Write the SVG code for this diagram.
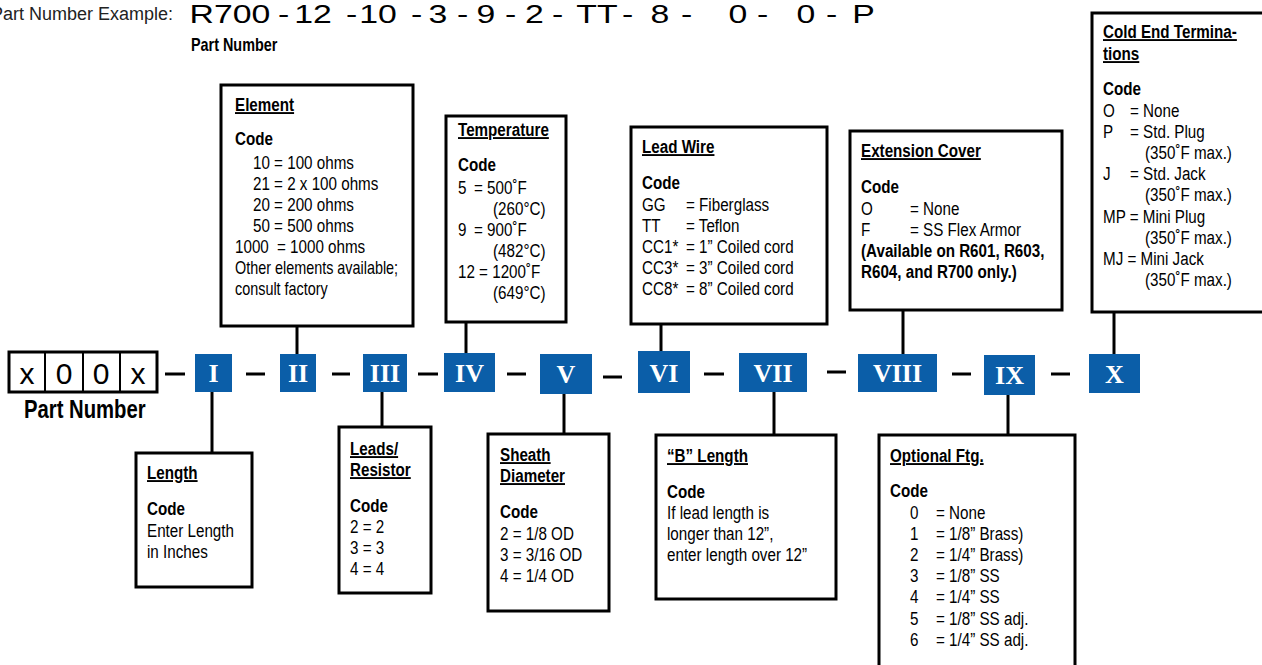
<svg xmlns="http://www.w3.org/2000/svg" width="1262" height="665" viewBox="0 0 1262 665">
<style>
.box{fill:#fff;stroke:#000;stroke-width:3}
.conn{stroke:#000;stroke-width:3;fill:none}
.blue{fill:#0b5ea8}
.rn{font-family:"Liberation Serif",serif;font-weight:bold;font-size:26px;fill:#fff;text-anchor:middle}
.t{font-family:"Liberation Sans",Arial,sans-serif;font-size:19px;fill:#000}
.b{font-weight:bold}
.u{text-decoration:underline}
.sm{font-size:18px}
.big{font-family:"Liberation Sans",Arial,sans-serif;font-size:26px;fill:#000}
.cell{font-family:"Liberation Sans",Arial,sans-serif;font-size:30px;fill:#000;text-anchor:middle}
</style>
<rect width="1262" height="665" fill="#fff"/>

<g id="header">
<text x="173" y="20" font-family="Liberation Sans, Arial, sans-serif" font-size="18" fill="#222" text-anchor="end">Part Number Example:</text>
<g class="big" transform="translate(0 23) scale(1.3 1)">
<text x="145.8">R700</text><text x="213.8">-</text><text x="226.4">12</text><text x="266.2">-</text><text x="276.4">10</text><text x="316.2">-</text><text x="329.6">3</text><text x="351.5">-</text><text x="366.5">9</text><text x="388.5">-</text><text x="403.8">2</text><text x="424.6">-</text><text x="443.3">TT</text><text x="478.5">-</text><text x="500.4">8</text><text x="523.8">-</text><text x="560.4">0</text><text x="582.3">-</text><text x="612.7">0</text><text x="635.4">-</text><text x="655.6">P</text>
</g>
<text class="t b" style="font-size:18px" transform="translate(191 51) scale(.8 1)">Part Number</text>
</g>

<g id="partnumber">
<rect x="9" y="352" width="148" height="40" fill="#fff" stroke="#000" stroke-width="3"/>
<line x1="45" y1="352" x2="45" y2="392" stroke="#000" stroke-width="2"/>
<line x1="83" y1="352" x2="83" y2="392" stroke="#000" stroke-width="2"/>
<line x1="120" y1="352" x2="120" y2="392" stroke="#000" stroke-width="2"/>
<text class="cell" x="27" y="384">x</text>
<text class="cell" x="64" y="384">0</text>
<text class="cell" x="101" y="384">0</text>
<text class="cell" x="138" y="384">x</text>
<text class="t b" style="font-size:26px" transform="translate(24 418) scale(.78 1)">Part Number</text>
</g>

<g id="connectors">
<line class="conn" x1="165" y1="374" x2="185" y2="374"/>
<line class="conn" x1="246" y1="374" x2="265" y2="374"/>
<line class="conn" x1="332" y1="374" x2="350" y2="374"/>
<line class="conn" x1="418" y1="374" x2="438" y2="374"/>
<line class="conn" x1="507" y1="374" x2="526" y2="374"/>
<line class="conn" x1="603" y1="377" x2="622" y2="377"/>
<line class="conn" x1="704" y1="374" x2="724" y2="374"/>
<line class="conn" x1="827" y1="372" x2="846" y2="372"/>
<line class="conn" x1="952" y1="374" x2="971" y2="374"/>
<line class="conn" x1="1051" y1="374" x2="1070" y2="374"/>
<line class="conn" x1="297" y1="326" x2="297" y2="354"/>
<line class="conn" x1="466" y1="322" x2="466" y2="353"/>
<line class="conn" x1="661" y1="324" x2="661" y2="351"/>
<line class="conn" x1="903" y1="310" x2="903" y2="354"/>
<line class="conn" x1="1114" y1="312" x2="1114" y2="354"/>
<line class="conn" x1="212" y1="392" x2="212" y2="453"/>
<line class="conn" x1="382" y1="392" x2="382" y2="427"/>
<line class="conn" x1="564" y1="394" x2="564" y2="434"/>
<line class="conn" x1="774" y1="392" x2="774" y2="435"/>
<line class="conn" x1="1008" y1="395" x2="1008" y2="435"/>
</g>

<g id="I"><rect class="blue" x="195" y="354" width="37" height="38"/><text class="rn" x="213.5" y="382">I</text></g>
<g id="II"><rect class="blue" x="280" y="354" width="36" height="38"/><text class="rn" x="298" y="382">II</text></g>
<g id="III"><rect class="blue" x="363" y="354" width="44" height="38"/><text class="rn" x="385" y="382">III</text></g>
<g id="IV"><rect class="blue" x="444" y="353" width="51" height="39"/><text class="rn" x="469.5" y="382">IV</text></g>
<g id="V"><rect class="blue" x="540" y="354" width="52" height="40"/><text class="rn" x="566" y="383">V</text></g>
<g id="VI"><rect class="blue" x="638" y="351" width="52" height="42"/><text class="rn" x="664" y="382">VI</text></g>
<g id="VII"><rect class="blue" x="739" y="353" width="68" height="39"/><text class="rn" x="773" y="382">VII</text></g>
<g id="VIII"><rect class="blue" x="858" y="354" width="79" height="38"/><text class="rn" x="897.5" y="382">VIII</text></g>
<g id="IX"><rect class="blue" x="984" y="355" width="51" height="40"/><text class="rn" x="1009.5" y="384">IX</text></g>
<g id="X"><rect class="blue" x="1089" y="354" width="51" height="39"/><text class="rn" x="1114.5" y="383">X</text></g>

<g id="element">
<rect class="box" x="221" y="85" width="192" height="241"/>
<text class="t b u" transform="translate(235 111) scale(.8 1)">Element</text>
<text class="t b" transform="translate(235 145) scale(.8 1)">Code</text>
<text class="t" transform="translate(253 169) scale(.8 1)">10 = 100 ohms</text>
<text class="t" transform="translate(253 190) scale(.8 1)">21 = 2 x 100 ohms</text>
<text class="t" transform="translate(253 211) scale(.8 1)">20 = 200 ohms</text>
<text class="t" transform="translate(253 232) scale(.8 1)">50 = 500 ohms</text>
<text class="t" transform="translate(235 253) scale(.8 1)">1000</text>
<text class="t" transform="translate(277 253) scale(.8 1)">= 1000 ohms</text>
<text class="t sm" transform="translate(235 274) scale(.8 1)">Other elements available;</text>
<text class="t sm" transform="translate(235 295) scale(.8 1)">consult factory</text>
</g>

<g id="temperature">
<rect class="box" x="446" y="116" width="120" height="206"/>
<text class="t b u" transform="translate(458 136) scale(.8 1)">Temperature</text>
<text class="t b" transform="translate(458 171) scale(.8 1)">Code</text>
<text class="t" transform="translate(458 194) scale(.8 1)">5</text>
<text class="t" transform="translate(474 194) scale(.8 1)">= 500˚F</text>
<text class="t" transform="translate(493 215) scale(.8 1)">(260°C)</text>
<text class="t" transform="translate(458 236) scale(.8 1)">9</text>
<text class="t" transform="translate(474 236) scale(.8 1)">= 900˚F</text>
<text class="t" transform="translate(493 257) scale(.8 1)">(482°C)</text>
<text class="t" transform="translate(458 278) scale(.8 1)">12 = 1200˚F</text>
<text class="t" transform="translate(493 299) scale(.8 1)">(649°C)</text>
</g>

<g id="leadwire">
<rect class="box" x="631" y="127" width="196" height="197"/>
<text class="t b u" transform="translate(642 153) scale(.8 1)">Lead Wire</text>
<text class="t b" transform="translate(642 189) scale(.8 1)">Code</text>
<text class="t" transform="translate(642 211) scale(.8 1)">GG</text>
<text class="t" transform="translate(686 211) scale(.8 1)">= Fiberglass</text>
<text class="t" transform="translate(642 232) scale(.8 1)">TT</text>
<text class="t" transform="translate(686 232) scale(.8 1)">= Teflon</text>
<text class="t" transform="translate(642 253) scale(.8 1)">CC1*</text>
<text class="t" transform="translate(686 253) scale(.8 1)">= 1” Coiled cord</text>
<text class="t" transform="translate(642 274) scale(.8 1)">CC3*</text>
<text class="t" transform="translate(686 274) scale(.8 1)">= 3” Coiled cord</text>
<text class="t" transform="translate(642 295) scale(.8 1)">CC8*</text>
<text class="t" transform="translate(686 295) scale(.8 1)">= 8” Coiled cord</text>
</g>

<g id="extension">
<rect class="box" x="850" y="131" width="212" height="179"/>
<text class="t b u" transform="translate(861 157) scale(.8 1)">Extension Cover</text>
<text class="t b" transform="translate(861 193) scale(.8 1)">Code</text>
<text class="t" transform="translate(861 215) scale(.8 1)">O</text>
<text class="t" transform="translate(910 215) scale(.8 1)">= None</text>
<text class="t" transform="translate(861 236) scale(.8 1)">F</text>
<text class="t" transform="translate(910 236) scale(.8 1)">= SS Flex Armor</text>
<text class="t b" transform="translate(861 257) scale(.8 1)">(Available on R601, R603,</text>
<text class="t b" transform="translate(861 278) scale(.8 1)">R604, and R700 only.)</text>
</g>

<g id="coldend">
<rect class="box" x="1092" y="13" width="180" height="299"/>
<text class="t b u" transform="translate(1103 38) scale(.8 1)">Cold End Termina-</text>
<text class="t b u" transform="translate(1103 60) scale(.8 1)">tions</text>
<text class="t b" transform="translate(1103 95) scale(.8 1)">Code</text>
<text class="t" transform="translate(1103 117) scale(.8 1)">O</text>
<text class="t" transform="translate(1130 117) scale(.8 1)">= None</text>
<text class="t" transform="translate(1103 138) scale(.8 1)">P</text>
<text class="t" transform="translate(1130 138) scale(.8 1)">= Std. Plug</text>
<text class="t" transform="translate(1145 159) scale(.8 1)">(350˚F max.)</text>
<text class="t" transform="translate(1103 180) scale(.8 1)">J</text>
<text class="t" transform="translate(1130 180) scale(.8 1)">= Std. Jack</text>
<text class="t" transform="translate(1145 201) scale(.8 1)">(350˚F max.)</text>
<text class="t" transform="translate(1103 223) scale(.8 1)">MP = Mini Plug</text>
<text class="t" transform="translate(1145 244) scale(.8 1)">(350˚F max.)</text>
<text class="t" transform="translate(1103 265) scale(.8 1)">MJ = Mini Jack</text>
<text class="t" transform="translate(1145 286) scale(.8 1)">(350˚F max.)</text>
</g>

<g id="length">
<rect class="box" x="136" y="453" width="116" height="134"/>
<text class="t b u" transform="translate(147 479) scale(.8 1)">Length</text>
<text class="t b" transform="translate(147 515) scale(.8 1)">Code</text>
<text class="t" transform="translate(147 537) scale(.8 1)">Enter Length</text>
<text class="t" transform="translate(147 558) scale(.8 1)">in Inches</text>
</g>

<g id="leads">
<rect class="box" x="339" y="427" width="92" height="166"/>
<text class="t b u" transform="translate(350 455) scale(.8 1)">Leads/</text>
<text class="t b u" transform="translate(350 476) scale(.8 1)">Resistor</text>
<text class="t b" transform="translate(350 512) scale(.8 1)">Code</text>
<text class="t" transform="translate(350 533) scale(.8 1)">2 = 2</text>
<text class="t" transform="translate(350 554) scale(.8 1)">3 = 3</text>
<text class="t" transform="translate(350 575) scale(.8 1)">4 = 4</text>
</g>

<g id="sheath">
<rect class="box" x="488" y="434" width="121" height="177"/>
<text class="t b u" transform="translate(500 461) scale(.8 1)">Sheath</text>
<text class="t b u" transform="translate(500 482) scale(.8 1)">Diameter</text>
<text class="t b" transform="translate(500 518) scale(.8 1)">Code</text>
<text class="t" transform="translate(500 540) scale(.8 1)">2 = 1/8 OD</text>
<text class="t" transform="translate(500 561) scale(.8 1)">3 = 3/16 OD</text>
<text class="t" transform="translate(500 582) scale(.8 1)">4 = 1/4 OD</text>
</g>

<g id="blength">
<rect class="box" x="656" y="435" width="180" height="164"/>
<text class="t b u" transform="translate(667 462) scale(.8 1)">“B” Length</text>
<text class="t b" transform="translate(667 498) scale(.8 1)">Code</text>
<text class="t" transform="translate(667 519) scale(.8 1)">If lead length is</text>
<text class="t" transform="translate(667 540) scale(.8 1)">longer than 12”,</text>
<text class="t" transform="translate(667 561) scale(.8 1)">enter length over 12”</text>
</g>

<g id="optional">
<rect class="box" x="879" y="435" width="196" height="245"/>
<text class="t b u" transform="translate(890 462) scale(.8 1)">Optional Ftg.</text>
<text class="t b" transform="translate(890 497) scale(.8 1)">Code</text>
<text class="t" transform="translate(910 519) scale(.8 1)">0</text>
<text class="t" transform="translate(936 519) scale(.8 1)">= None</text>
<text class="t" transform="translate(910 540) scale(.8 1)">1</text>
<text class="t" transform="translate(936 540) scale(.8 1)">= 1/8” Brass)</text>
<text class="t" transform="translate(910 561) scale(.8 1)">2</text>
<text class="t" transform="translate(936 561) scale(.8 1)">= 1/4” Brass)</text>
<text class="t" transform="translate(910 582) scale(.8 1)">3</text>
<text class="t" transform="translate(936 582) scale(.8 1)">= 1/8” SS</text>
<text class="t" transform="translate(910 603) scale(.8 1)">4</text>
<text class="t" transform="translate(936 603) scale(.8 1)">= 1/4” SS</text>
<text class="t" transform="translate(910 625) scale(.8 1)">5</text>
<text class="t" transform="translate(936 625) scale(.8 1)">= 1/8” SS adj.</text>
<text class="t" transform="translate(910 646) scale(.8 1)">6</text>
<text class="t" transform="translate(936 646) scale(.8 1)">= 1/4” SS adj.</text>
</g>
</svg>
